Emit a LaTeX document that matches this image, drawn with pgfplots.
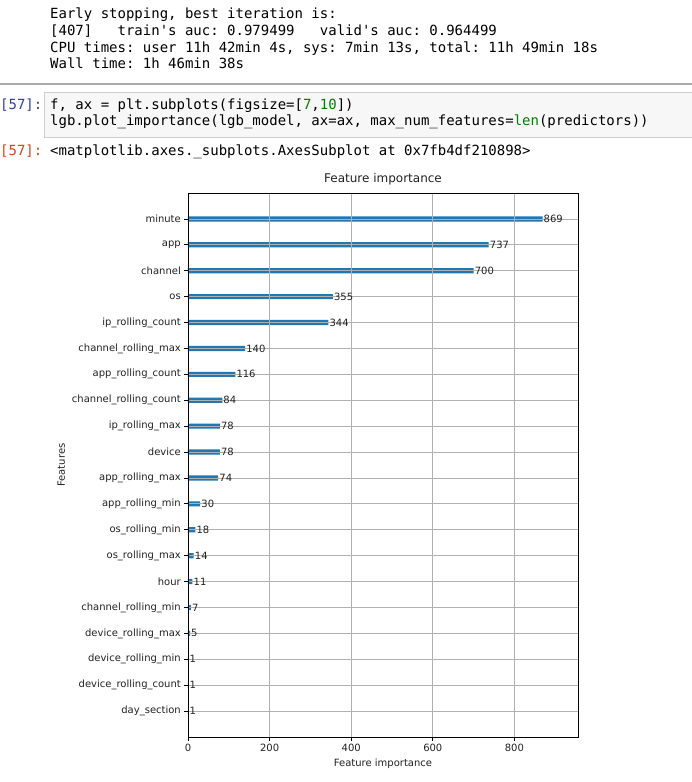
\documentclass[border=0pt]{standalone}
\usepackage{fontspec}
\setmainfont{DejaVu Sans}
\setmonofont{DejaVu Sans Mono}
\usepackage{pgfplots}
\usepackage{pgfplotstable}
\pgfplotsset{compat=1.18}
\definecolor{mplblue}{HTML}{1F77B4}
\definecolor{gridgray}{HTML}{B0B0B0}
\definecolor{txt}{HTML}{222222}
\definecolor{inblue}{HTML}{303F9F}
\definecolor{outred}{HTML}{D84315}
\definecolor{codegreen}{HTML}{008000}
\definecolor{cellbg}{HTML}{F7F7F7}
\definecolor{cellborder}{HTML}{CFCFCF}
\definecolor{sep}{HTML}{ABABAB}

\pgfplotstableread{
y v
0 1
1 1
2 1
3 5
4 7
5 11
6 14
7 18
8 30
9 74
10 78
11 78
12 84
13 116
14 140
15 344
16 355
17 700
18 737
19 869
}\data

\newcommand{\cw}{\fontsize{14}{17}\selectfont\ttfamily}
\newcommand{\q}{\textquotesingle}

\begin{document}
\begin{tikzpicture}
\path[use as bounding box, fill=white] (0pt,0pt) rectangle (692pt,-782pt);
% notebook text
\node[anchor=base west, inner sep=0, text=black] at (50pt,-18pt) {\cw Early stopping, best iteration is:};
\node[anchor=base west, inner sep=0, text=black] at (50pt,-35pt) {\cw [407]\ \ \ train\q s auc: 0.979499\ \ \ valid\q s auc: 0.964499};
\node[anchor=base west, inner sep=0, text=black] at (50pt,-52pt) {\cw CPU times: user 11h 42min 4s, sys: 7min 13s, total: 11h 49min 18s};
\node[anchor=base west, inner sep=0, text=black] at (50pt,-68pt) {\cw Wall time: 1h 46min 38s};
\draw[sep, line width=1.5pt] (0pt,-84pt) -- (692pt,-84pt);
\begin{scope}
\clip (0pt,0pt) rectangle (692pt,-782pt);
\draw[cellborder, fill=cellbg, line width=1pt] (44.5pt,-92pt) rectangle (700pt,-137pt);
\end{scope}
\node[anchor=base west, inner sep=0, text=inblue] at (0pt,-109pt) {\cw [57]:};
\node[anchor=base west, inner sep=0, text=black] at (50pt,-109pt) {\cw f, ax = plt.subplots(figsize=[\textcolor{codegreen}{7},\textcolor{codegreen}{10}])};
\node[anchor=base west, inner sep=0, text=black] at (50pt,-125pt) {\cw lgb.plot\_importance(lgb\_model, ax=ax, max\_num\_features=\textcolor{codegreen}{len}(predictors))};
\node[anchor=base west, inner sep=0, text=outred] at (0pt,-155pt) {\cw [57]:};
\node[anchor=base west, inner sep=0, text=black] at (50pt,-155pt) {\cw <matplotlib.axes.\_subplots.AxesSubplot at 0x7fb4df210898>};
% chart
\begin{axis}[
  at={(188pt,-737pt)}, anchor=south west,
  scale only axis, width=390pt, height=544pt,
  xmin=0, xmax=955.9, ymin=-1, ymax=20,
  xbar, bar width=0.2,
  axis on top,
  grid=major,
  major grid style={color=gridgray, line width=0.8pt},
  axis line style={black, line width=0.8pt},
  tick pos=left, tick align=outside,
  major tick length=3.5pt,
  every tick/.style={black, line width=0.8pt},
  xtick={0,200,400,600,800},
  ytick={0,...,19},
  yticklabels={day\_section, device\_rolling\_count, device\_rolling\_min, device\_rolling\_max, channel\_rolling\_min, hour, os\_rolling\_max, os\_rolling\_min, app\_rolling\_min, app\_rolling\_max, device, ip\_rolling\_max, channel\_rolling\_count, app\_rolling\_count, channel\_rolling\_max, ip\_rolling\_count, os, channel, app, minute},
  /pgf/number format/assume math mode=true,
  tick label style={font=\fontsize{10}{12}\selectfont, text=txt},
  xticklabel style={inner sep=3.5pt},
  yticklabel style={inner sep=3.5pt},
  label style={font=\fontsize{10}{12}\selectfont, text=txt},
  xlabel={Feature importance},
  ylabel={Features},
  title={Feature importance},
  title style={font=\fontsize{12}{14}\selectfont, text=txt, yshift=-2pt},
  nodes near coords,
  nodes near coords style={anchor=west, inner sep=1pt, font=\fontsize{10}{12}\selectfont, text=txt},
]
\addplot[fill=mplblue, draw=none] table[x=v, y=y] {\data};
\end{axis}
\end{tikzpicture}
\end{document}
